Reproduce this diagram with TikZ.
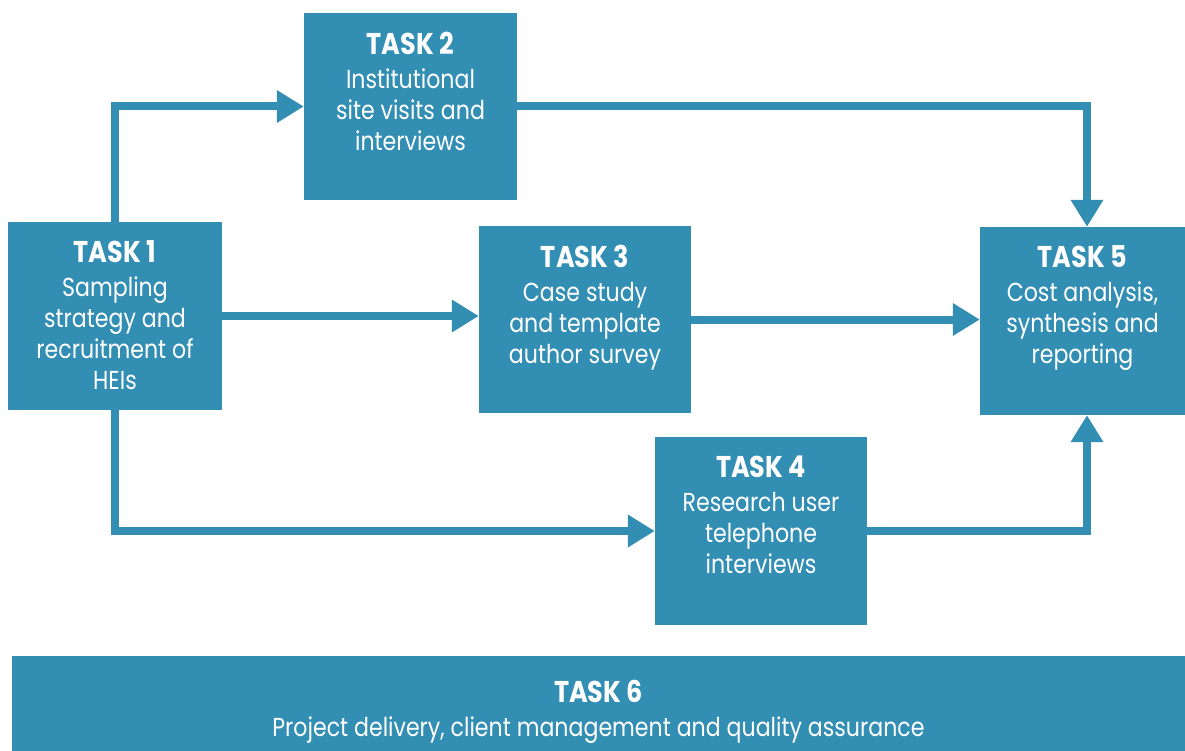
\documentclass[tikz,border=0pt]{standalone}
\usepackage{fontspec}
\setmainfont[FakeStretch=0.85]{Poppins}
\usetikzlibrary{arrows.meta,calc}
\definecolor{boxblue}{RGB}{51,142,180}
\newcommand{\tasktitle}[1]{{\fontsize{30}{31}\selectfont\bfseries #1}}
\tikzset{
  box/.style={fill=boxblue, draw=none, inner sep=0pt, rectangle},
  txt/.style={text=white, align=center, inner sep=0pt, font=\fontsize{26}{31}\selectfont},
  flow/.style={draw=boxblue, line width=8pt, line join=miter,
    -{Triangle[length=27pt 0 0, width=31pt 0 0]}, shorten >=0pt}
}
\begin{document}
\begin{tikzpicture}[x=1pt,y=-1pt]
\useasboundingbox (0,0) rectangle (1185,751);
% boxes
\node[box, minimum width=214pt, minimum height=188pt] (t1) at (115,316) {};
\node[box, minimum width=213pt, minimum height=187pt] (t2) at (410.5,106.5) {};
\node[box, minimum width=212pt, minimum height=187pt] (t3) at (585,319.5) {};
\node[box, minimum width=212pt, minimum height=188pt] (t4) at (761,531) {};
\node[box, minimum width=205pt, minimum height=188pt] (t5) at (1082.5,321) {};
\node[box, minimum width=1173pt, minimum height=95pt] (t6) at (598.5,703.5) {};
% texts
\node[txt, anchor=north] (t1l) at ([yshift=-19pt]t1.north) {\tasktitle{TASK 1}\\[3pt]Sampling\\strategy and\\recruitment of\\HEIs};
\node[txt, anchor=north] (t2l) at ([yshift=-19pt]t2.north) {\tasktitle{TASK 2}\\[3pt]Institutional\\site visits and\\interviews};
\node[txt, anchor=north] (t3l) at ([yshift=-19pt]t3.north) {\tasktitle{TASK 3}\\[3pt]Case study\\and template\\author survey};
\node[txt, anchor=north] (t4l) at ([yshift=-19pt]t4.north) {\tasktitle{TASK 4}\\[3pt]Research user\\telephone\\interviews};
\node[txt, anchor=north] (t5l) at ([yshift=-19pt]t5.north) {\tasktitle{TASK 5}\\[3pt]Cost analysis,\\synthesis and\\reporting};
\node[txt, anchor=north] (t6l) at ([yshift=-24pt]t6.north) {\tasktitle{TASK 6}\\[3pt]Project delivery, client management and quality assurance};
% connectors
\draw[flow] (t1.north) |- (t2.west);
\draw[flow] (t1.east) -- (t1.east -| t3.west);
\draw[flow] (t1.south) |- (t4.west);
\draw[flow] (t2.east) -| ([xshift=4.5pt]t5.north);
\draw[flow] (t3.east) -- (t3.east -| t5.west);
\draw[flow] (t4.east) -| ([xshift=4.5pt]t5.south);
\end{tikzpicture}
\end{document}
